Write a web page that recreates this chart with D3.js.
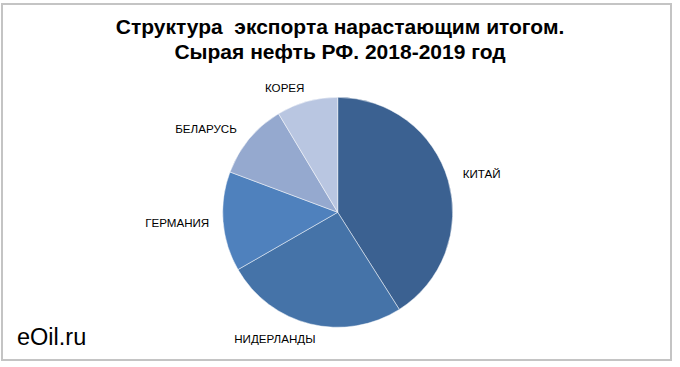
<!DOCTYPE html>
<html><head><meta charset="utf-8">
<script src="https://cdn.jsdelivr.net/npm/d3@7"></script>
<style>html,body{margin:0;padding:0;background:#fff;}svg{display:block;}</style>
</head><body>
<script>
const categories = ["КИТАЙ", "НИДЕРЛАНДЫ", "ГЕРМАНИЯ", "БЕЛАРУСЬ", "КОРЕЯ"];
const shares = [41.0, 25.7, 14.0, 10.7, 8.6];
const colors = ["#3b6191", "#4573a8", "#4f81bd", "#95a9cf", "#b9c6e1"];
const titleLines = ["Структура  экспорта нарастающим итогом.", "Сырая нефть РФ. 2018-2019 год"];
const watermark = "eOil.ru";
// label layout nudges (px), style only
const labelNudge = [[1,0],[-22,-6],[1,0],[-8,4],[-13,7]];

const W = 680, H = 367;
const svg = d3.select("body").append("svg").attr("width", W).attr("height", H);
svg.append("rect").attr("x", 2).attr("y", 4).attr("width", 669).attr("height", 356)
  .attr("fill", "#fff").attr("stroke", "#c4c4c4").attr("stroke-width", 2);

const font = "'Liberation Sans', Arial, sans-serif";
svg.selectAll("text.title").data(titleLines).join("text").attr("class","title")
  .attr("x", 340).attr("y", (d,i)=>34 + i*25)
  .attr("text-anchor","middle").attr("font-family", font).attr("font-weight","bold")
  .attr("font-size", 21).attr("fill","#000").style("white-space","pre").text(d=>d);

const cx = 337.7, cy = 212.3, R = 115;
const pie = d3.pie().sort(null).value(d=>d);
const arcs = pie(shares);
const arc = d3.arc().innerRadius(0).outerRadius(R);
const g = svg.append("g").attr("transform", `translate(${cx},${cy})`);
g.selectAll("path").data(arcs).join("path").attr("d", arc)
  .attr("fill", (d,i)=>colors[i]).attr("stroke","#ffffff").attr("stroke-opacity",0.6).attr("stroke-width",0.8);

const labels = g.selectAll("text.lbl").data(arcs).join("text").attr("class","lbl")
  .attr("font-family", font).attr("font-size", 11.6).attr("fill","#000")
  .attr("text-anchor","middle").text((d,i)=>categories[i]);
labels.each(function(d,i){
  const bb = this.getBBox();
  const a = (d.startAngle + d.endAngle)/2;
  const s = Math.sin(a), c = -Math.cos(a);
  const rl = R + 15;
  const ax = rl*s, ay = rl*c;
  const x = ax + s*bb.width/2 + labelNudge[i][0];
  const yc = ay + c*bb.height/2 + labelNudge[i][1];
  d3.select(this).attr("x", x).attr("y", yc + 4);
});

svg.append("text").attr("x", 17).attr("y", 345).attr("font-family", font)
  .attr("font-size", 23.5).attr("fill","#000").text(watermark);
</script>
</body></html>
